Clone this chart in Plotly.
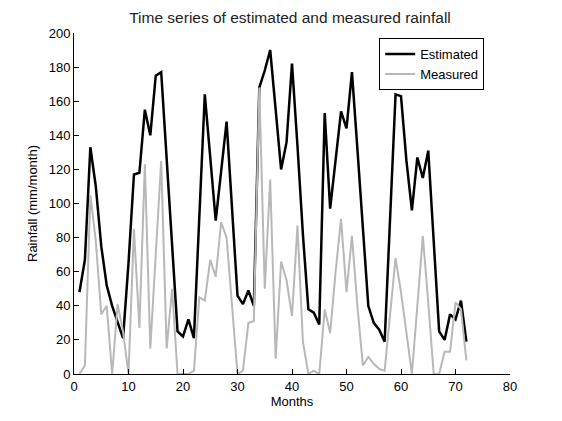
import plotly.graph_objects as go

months = list(range(1, 73))

estimated = [48, 67, 133, 110, 75, 52, 40, 30, 21, 65,
             117, 118, 155, 140, 175, 177, 128, 78, 25, 22,
             32, 21, 92, 164, 127, 90, 119, 148, 97, 46,
             41, 49, 40, 168, 178, 190, 155, 120, 136, 182,
             134, 82, 38, 36, 29, 153, 97, 125, 154, 144,
             177, 132, 86, 40, 30, 26, 19, 92, 164, 163,
             125, 96, 127, 115, 131, 78, 25, 20, 35, 32,
             43, 19]

measured = [0, 5, 105, 78, 35, 40, 0, 41, 25, 0,
            85, 27, 123, 15, 70, 125, 15, 50, 0, 0,
            0, 2, 45, 43, 67, 57, 89, 80, 40, 0,
            2, 30, 31, 168, 50, 114, 9, 66, 55, 34,
            87, 19, 0, 2, 0, 38, 24, 60, 91, 48,
            81, 40, 5, 10, 6, 3, 2, 35, 68, 48,
            24, 0, 40, 81, 42, 0, 0, 13, 13, 42,
            38, 8]

x_ticks = list(range(0, 81, 10))
y_ticks = list(range(0, 201, 20))

font_family = "Liberation Sans, Arial, sans-serif"

fig = go.Figure()
fig.add_trace(go.Scatter(x=months, y=estimated, mode="lines", name="Estimated",
                         line=dict(color="black", width=2.5)))
fig.add_trace(go.Scatter(x=months, y=measured, mode="lines", name="Measured",
                         line=dict(color="#b8b8b8", width=2)))

fig.update_layout(
    width=554, height=413,
    paper_bgcolor="white", plot_bgcolor="white",
    margin=dict(l=66, r=52, t=25, b=47, autoexpand=False),
    font=dict(family=font_family, size=13, color="black"),
    title=dict(text="Time series of estimated and measured rainfall",
               x=0.509, xanchor="center", y=0.978, yanchor="middle",
               font=dict(size=15.5, family=font_family, color="#222"),
               automargin=False),
    xaxis=dict(range=[0, 80], tickvals=x_ticks, ticks="inside", ticklen=5,
               tickcolor="black", showline=True, linecolor="black", linewidth=1,
               showgrid=False, zeroline=False, mirror=False, automargin=False,
               title=dict(text="Months", standoff=2, font=dict(size=13)),
               tickfont=dict(size=13)),
    yaxis=dict(range=[0, 200], tickvals=y_ticks, ticks="inside", ticklen=5,
               tickcolor="black", showline=True, linecolor="black", linewidth=1,
               showgrid=False, zeroline=False, mirror=False, automargin=False,
               title=dict(text="Rainfall (mm/month)", standoff=8, font=dict(size=13)),
               tickfont=dict(size=13)),
    legend=dict(x=0.70, y=0.985, xanchor="left", yanchor="top",
                bordercolor="black", borderwidth=1, bgcolor="white",
                font=dict(size=13), tracegroupgap=0),
    showlegend=True,
)

fig.write_html("out.html")
